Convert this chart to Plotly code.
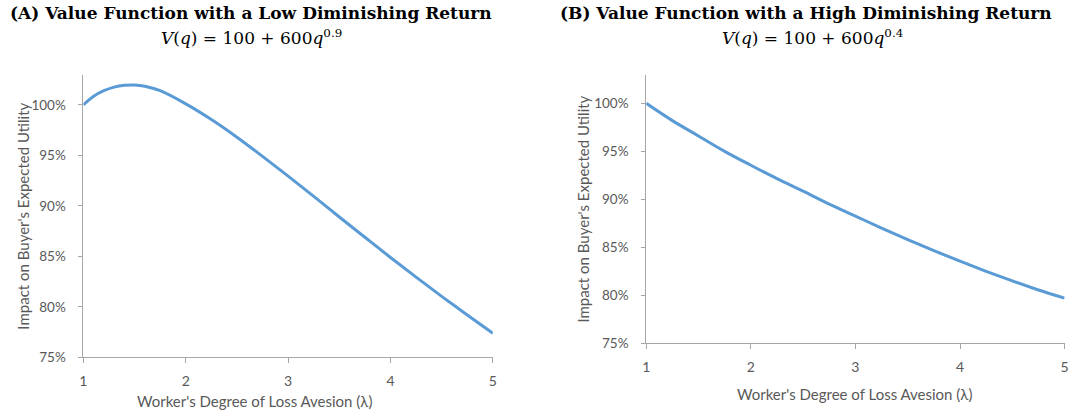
import plotly.graph_objects as go

# Worker's degree of loss aversion (lambda) and impact on buyer's expected utility (%)
lam_a = [1.0, 1.1, 1.2, 1.3, 1.4, 1.5, 1.6, 1.75, 2.0, 2.25, 2.5, 2.75, 3.0, 3.25, 3.5, 3.75, 4.0, 4.25, 4.5, 4.75, 5.0]
util_a = [100.0, 100.85, 101.4, 101.75, 101.93, 101.97, 101.85, 101.4, 100.1, 98.55, 96.8, 94.9, 92.95, 90.95, 88.9, 86.9, 84.9, 82.95, 81.05, 79.2, 77.4]

lam_b = [1.0, 1.25, 1.5, 1.75, 2.0, 2.25, 2.5, 2.75, 3.0, 3.25, 3.5, 3.75, 4.0, 4.25, 4.5, 4.75, 5.0]
util_b = [100.0, 98.2, 96.6, 95.0, 93.55, 92.15, 90.85, 89.5, 88.25, 87.0, 85.8, 84.65, 83.55, 82.5, 81.5, 80.55, 79.7]

y_ticks = [75, 80, 85, 90, 95, 100]
y_tick_labels = ["75%", "80%", "85%", "90%", "95%", "100%"]
x_ticks = [1, 2, 3, 4, 5]
x_tick_labels = ["1", "2", "3", "4", "5"]

titles = [
    "(A) Value Function with a Low Diminishing Return",
    "(B) Value Function with a High Diminishing Return",
]
formulas = [
    "<i>V</i>(<i>q</i>) = 100 + 600<i>q</i><sup>0.9</sup>",
    "<i>V</i>(<i>q</i>) = 100 + 600<i>q</i><sup>0.4</sup>",
]
x_title = "Worker's Degree of Loss Avesion (λ)"
y_title = "Impact on Buyer's Expected Utility"

W, H = 1083, 416
LINE = "#5B9BD5"
AXIS = "#a6a6a6"
TXT = "#595959"
SANS = "Lato, 'Open Sans', sans-serif"
SERIF = "'DejaVu Serif', 'Liberation Serif', serif"

fig = go.Figure()
fig.add_trace(go.Scatter(x=lam_a, y=util_a, mode="lines", line=dict(color=LINE, width=3, shape="spline"),
                         xaxis="x", yaxis="y", showlegend=False))
fig.add_trace(go.Scatter(x=lam_b, y=util_b, mode="lines", line=dict(color=LINE, width=3, shape="spline"),
                         xaxis="x2", yaxis="y2", showlegend=False))


def px_x(v):
    return v / W


def px_y(v):
    return 1 - v / H


def xaxis(domain, anchor):
    return dict(domain=domain, anchor=anchor, range=[1, 5], tickvals=x_ticks, ticktext=x_tick_labels,
                showline=True, linecolor=AXIS, linewidth=1, ticks="outside", ticklen=5,
                tickcolor=AXIS, showgrid=False, zeroline=False, ticklabelstandoff=6,
                tickfont=dict(family=SANS, size=14, color=TXT))


def yaxis(domain, anchor):
    return dict(domain=domain, anchor=anchor, range=[75, 103], tickvals=y_ticks, ticktext=y_tick_labels,
                showline=True, linecolor=AXIS, linewidth=1, ticks="outside", ticklen=4,
                tickcolor=AXIS, showgrid=False, zeroline=False, ticklabelstandoff=10,
                tickfont=dict(family=SANS, size=13.5, color=TXT))


fig.update_layout(
    width=W, height=H,
    margin=dict(l=0, r=0, t=0, b=0),
    paper_bgcolor="white", plot_bgcolor="white",
    xaxis=xaxis([px_x(80), px_x(492.5)], "y"),
    yaxis=yaxis([px_y(364.5), px_y(76)], "x"),
    xaxis2=xaxis([px_x(647), px_x(1068.5)], "y2"),
    yaxis2=yaxis([px_y(350), px_y(76)], "x2"),
)

ann = []
for cx, fx, t, f in [(249, 249, titles[0], formulas[0]), (808, 815, titles[1], formulas[1])]:
    ann.append(dict(text="<b>" + t + "</b>", x=px_x(cx), y=px_y(13), xref="paper", yref="paper",
                    showarrow=False, xanchor="center", yanchor="middle",
                    font=dict(family=SERIF, size=17, color="black")))
    ann.append(dict(text=f, x=px_x(fx), y=px_y(38), xref="paper", yref="paper",
                    showarrow=False, xanchor="center", yanchor="middle",
                    font=dict(family=SERIF, size=17, color="black")))

for cx, cy in [(252, 409), (857, 402)]:
    ann.append(dict(text=x_title, x=px_x(cx), y=px_y(cy), xref="paper", yref="paper",
                    showarrow=False, xanchor="center", yanchor="middle",
                    font=dict(family=SANS, size=15, color=TXT)))

for cx, cy in [(19, 220), (583, 213)]:
    ann.append(dict(text=y_title, x=px_x(cx), y=px_y(cy), xref="paper", yref="paper",
                    showarrow=False, xanchor="center", yanchor="middle", textangle=-90,
                    font=dict(family=SANS, size=15, color=TXT)))

fig.update_layout(annotations=ann)
fig.write_html("out.html")
